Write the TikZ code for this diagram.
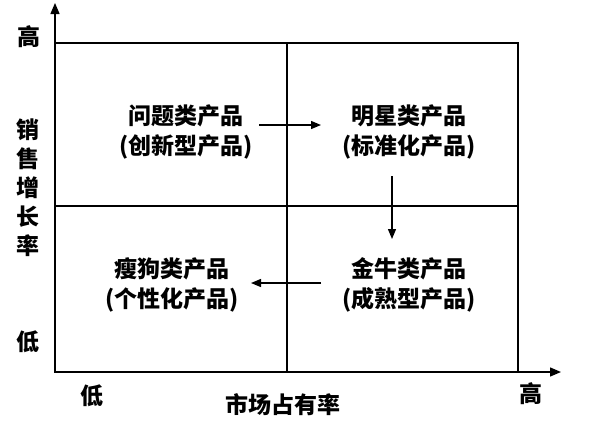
\documentclass[tikz,border=0pt]{standalone}
\usepackage{fontspec}
\newfontfamily\cjk{Noto Sans CJK SC}
\usetikzlibrary{arrows.meta}
\tikzset{
  grid/.style={line width=1.6pt},
  axis/.style={line width=1.4pt,-{Triangle[length=11pt,width=9pt]}},
  flow/.style={line width=1.3pt,-{Triangle[length=10pt,width=8pt]}},
  lab/.style={font=\cjk\bfseries\fontsize{23pt}{29pt}\selectfont,inner sep=0pt},
  qlab/.style={font=\cjk\bfseries\fontsize{23pt}{30pt}\selectfont,inner sep=0pt,align=center}
}
\begin{document}
\begin{tikzpicture}[x=1pt,y=-1pt]
\useasboundingbox (0,0) rectangle (593,426);
% grid
\coordinate (o) at (55,372);
\coordinate (ytip) at (55,3);
\coordinate (xtip) at (561,372);
\draw[grid] (55,43) rectangle (518,372);
\draw[grid] (287,43) -- (287,372);
\draw[grid] (55,206) -- (518,206);
\draw[axis] (o) -- (ytip);
\draw[axis] (o) -- (xtip);
% axis labels
\node[lab] (yhi) at (29,37) {高};
\node[lab,align=center] (ylab) at (28,188) {销\\售\\增\\长\\率};
\node[lab] (ylo) at (28,342) {低};
\node[lab] (xlo) at (92,396) {低};
\node[lab] (xlab) at (283,405) {市场占有率};
\node[lab] (xhi) at (531,394) {高};
% quadrants
\node[qlab] (q1) at (186,132) {问题类产品\\(创新型产品)};
\node[qlab] (q2) at (409,132) {明星类产品\\(标准化产品)};
\node[qlab] (q3) at (172,285) {瘦狗类产品\\(个性化产品)};
\node[qlab] (q4) at (409,285) {金牛类产品\\(成熟型产品)};
% transitions
\coordinate (a1s) at (259,125);
\coordinate (a1e) at (321,125);
\coordinate (a2s) at (392,176);
\coordinate (a2e) at (392,239);
\coordinate (a3s) at (321,283);
\coordinate (a3e) at (251,283);
\draw[flow] (a1s) -- (a1e);
\draw[flow] (a2s) -- (a2e);
\draw[flow] (a3s) -- (a3e);
\end{tikzpicture}
\end{document}
